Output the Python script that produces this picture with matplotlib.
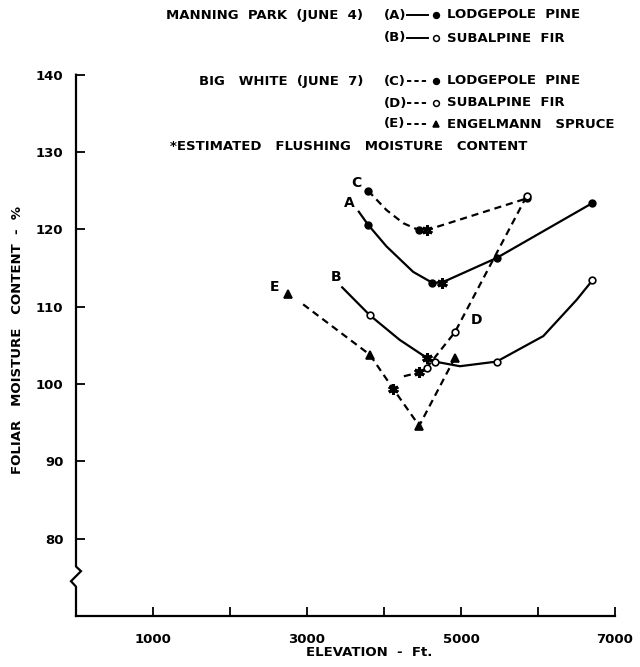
import matplotlib
matplotlib.use("Agg")
import matplotlib.pyplot as plt
from matplotlib.lines import Line2D
import matplotlib.transforms as mtransforms

plt.rcParams['font.family'] = ['DejaVu Sans']
plt.rcParams['font.weight'] = 'bold'

# ---------------- data (elevation ft, foliar moisture %) ----------------
# A: Manning Park, lodgepole pine (solid, filled circles)
a_line_x = [3664, 3793, 4032, 4379, 4626, 4748, 5463, 6706]
a_line_y = [122.4, 120.6, 117.8, 114.5, 113.1, 113.1, 116.3, 123.4]
a_pts_x = [3793, 4626, 5463, 6706]
a_pts_y = [120.6, 113.1, 116.3, 123.4]
a_star = (4748, 113.1)

# B: Manning Park, subalpine fir (solid, open circles)
b_line_x = [3447, 3815, 4205, 4553, 4661, 4986, 5463, 6069, 6503, 6706]
b_line_y = [112.6, 108.9, 105.7, 103.4, 102.9, 102.3, 102.9, 106.2, 110.9, 113.4]
b_pts_x = [3815, 4661, 5463, 6706]
b_pts_y = [108.9, 102.9, 102.9, 113.4]
b_star = (4553, 103.4)

# C: Big White, lodgepole pine (dashed, filled circles)
c_line_x = [3793, 4032, 4250, 4453, 4553, 5853]
c_line_y = [125.0, 122.5, 120.8, 119.9, 119.9, 124.0]
c_pts_x = [3793, 4453, 5853]
c_pts_y = [125.0, 119.9, 124.0]
c_star = (4553, 119.9)

# D: Big White, subalpine fir (dashed, open circles)
d_line_x = [4258, 4457, 4553, 4921, 5853]
d_line_y = [101.0, 101.5, 102.1, 106.7, 124.3]
d_pts_x = [4553, 4921, 5853]
d_pts_y = [102.1, 106.7, 124.3]
d_star = (4457, 101.5)

# E: Big White, Engelmann spruce (dashed, triangles)
e_line_x = [2950, 3815, 4118, 4457, 4921]
e_line_y = [110.3, 103.8, 99.4, 94.6, 103.4]
e_pts_x = [2753, 3815, 4457, 4921]
e_pts_y = [111.6, 103.8, 94.6, 103.4]
e_star = (4118, 99.4)

curve_labels = ['A', 'B', 'C', 'D', 'E']
curve_label_x = [3546, 3382, 3641, 5203, 2580]
curve_label_y = [123.4, 113.9, 126.0, 108.3, 112.6]

x_ticks = [1000, 2000, 3000, 4000, 5000, 6000, 7000]
x_tick_labels = ['1000', '', '3000', '', '5000', '', '7000']
y_ticks = [80, 90, 100, 110, 120, 130, 140]
y_tick_labels = ['80', '90', '100', '110', '120', '130', '140']

# ---------------- figure ----------------
W, H = 640, 667
fig = plt.figure(figsize=(W / 100, H / 100), dpi=100)
fig.patch.set_facecolor('white')

ax_l, ax_r, ax_t, ax_b = 76, 615, 74.7, 616
ax = fig.add_axes([ax_l / W, (H - ax_b) / H, (ax_r - ax_l) / W, (ax_b - ax_t) / H])
ax.set_xlim(0, 7000)
ax.set_ylim(70, 140)
ax.set_facecolor('white')

lw = 1.6
dash = (0, (3.2, 2.2))
ms = 4.8

def draw(lx, ly, px, py, ls, marker, filled, star):
    ax.plot(lx, ly, color='black', lw=lw, linestyle=ls, solid_capstyle='butt',
            dash_capstyle='butt', zorder=2)
    ax.plot(px, py, linestyle='none', marker=marker, ms=ms if marker == 'o' else ms + 0.4,
            mfc='black' if filled else 'white', mec='black', mew=1.2, zorder=3)
    ax.plot([star[0]], [star[1]], linestyle='none', marker=(6, 2, 0), ms=7.5,
            mec='black', mew=2.2, zorder=4)

draw(a_line_x, a_line_y, a_pts_x, a_pts_y, '-', 'o', True, a_star)
draw(b_line_x, b_line_y, b_pts_x, b_pts_y, '-', 'o', False, b_star)
draw(c_line_x, c_line_y, c_pts_x, c_pts_y, dash, 'o', True, c_star)
draw(d_line_x, d_line_y, d_pts_x, d_pts_y, dash, 'o', False, d_star)
draw(e_line_x, e_line_y, e_pts_x, e_pts_y, dash, '^', True, e_star)

fs = 9.5
for lab, lx, ly in zip(curve_labels, curve_label_x, curve_label_y):
    ax.text(lx, ly, lab, fontsize=fs + 0.5, ha='center', va='center', fontweight='bold')

# axes styling
for s in ['top', 'right', 'left']:
    ax.spines[s].set_visible(False)
ax.spines['bottom'].set_linewidth(lw)
ax.set_xticks(x_ticks)
ax.set_xticklabels(x_tick_labels)
ax.set_yticks(y_ticks)
ax.set_yticklabels(y_tick_labels)
ax.tick_params(axis='x', direction='in', length=6.5, width=1.3, pad=12, labelsize=fs)
ax.tick_params(axis='y', direction='in', length=6.5, width=1.3, pad=9, labelsize=fs)

# left spine with axis break, drawn in (axes-x, data-y)
trans = mtransforms.blended_transform_factory(ax.transAxes, ax.transData)
dx = 5.0 / (ax_r - ax_l)
ax.plot([0, 0, dx, -dx, 0, 0], [140, 76.4, 75.8, 74.5, 73.8, 70], color='black',
        lw=lw, transform=trans, clip_on=False, solid_joinstyle='miter', zorder=5)

# axis titles
fig.text(369 / W, 1 - 653 / H, 'ELEVATION  -  Ft.', fontsize=fs, ha='center', va='center')
fig.text(18 / W, 1 - 340 / H, 'FOLIAR   MOISTURE   CONTENT  -  %', fontsize=fs,
         rotation=90, ha='center', va='center')

# ---------------- key ----------------
def ftext(x, y, s, ha='left'):
    fig.text(x / W, 1 - y / H, s, fontsize=fs, ha=ha, va='center')

def fline(x1, x2, y, ls):
    fig.add_artist(Line2D([x1 / W, x2 / W], [1 - y / H, 1 - y / H], color='black',
                          lw=1.4, linestyle=ls, transform=fig.transFigure))

def fmark(x, y, marker, filled):
    fig.add_artist(Line2D([x / W], [1 - y / H], marker=marker, ms=4.2 if marker == 'o' else 4.5,
                          mfc='black' if filled else 'white', mec='black', mew=1.1,
                          linestyle='none', transform=fig.transFigure))

rows = [15, 38, 81, 103, 124, 147]
ftext(363, rows[0], 'MANNING  PARK  (JUNE  4)', ha='right')
ftext(363, rows[2], 'BIG   WHITE  (JUNE  7)', ha='right')
codes = ['(A)', '(B)', '(C)', '(D)', '(E)']
names = ['LODGEPOLE  PINE', 'SUBALPINE  FIR', 'LODGEPOLE  PINE', 'SUBALPINE  FIR',
         'ENGELMANN   SPRUCE']
styles = ['-', '-', (0, (2.2, 1.6)), (0, (2.2, 1.6)), (0, (2.2, 1.6))]
marks = [('o', True), ('o', False), ('o', True), ('o', False), ('^', True)]
for i, r in enumerate([rows[0], rows[1], rows[2], rows[3], rows[4]]):
    ftext(384, r, codes[i])
    fline(407, 428, r, styles[i])
    fmark(436, r, *marks[i])
    ftext(447, r, names[i])
ftext(170, rows[5], '*ESTIMATED   FLUSHING   MOISTURE   CONTENT')

fig.savefig('out.png', dpi=100, facecolor='white')
